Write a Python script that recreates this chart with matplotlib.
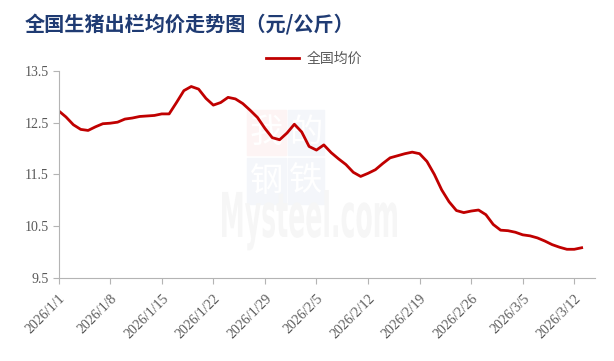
import datetime as dt
import matplotlib
matplotlib.use("Agg")
import matplotlib.pyplot as plt
import matplotlib.dates as mdates
from matplotlib.ticker import FuncFormatter
from matplotlib.textpath import TextPath
from matplotlib.patches import PathPatch, Rectangle
from matplotlib.transforms import Affine2D, IdentityTransform
from matplotlib.font_manager import FontProperties

# Dados (um valor por dia a partir de 2026/1/1)
inicio = dt.date(2026, 1, 1)
precos = [12.73, 12.61, 12.46, 12.37, 12.35, 12.42, 12.48, 12.49, 12.51, 12.57,
          12.59, 12.62, 12.63, 12.64, 12.67, 12.67, 12.89, 13.12, 13.20, 13.15,
          12.97, 12.84, 12.89, 12.99, 12.96, 12.87, 12.74, 12.60, 12.39, 12.21,
          12.17, 12.30, 12.47, 12.32, 12.04, 11.97, 12.07, 11.92, 11.80, 11.69,
          11.54, 11.46, 11.52, 11.59, 11.71, 11.82, 11.86, 11.90, 11.93, 11.90,
          11.75, 11.50, 11.20, 10.97, 10.80, 10.76, 10.79, 10.81, 10.72, 10.53,
          10.42, 10.41, 10.38, 10.33, 10.31, 10.27, 10.21, 10.14, 10.09, 10.05,
          10.05, 10.08]
datas = [inicio + dt.timedelta(days=i) for i in range(len(precos))]

titulo = "全国生猪出栏均价走势图（元/公斤）"
nome_serie = "全国均价"
y_ticks = [9.5, 10.5, 11.5, 12.5, 13.5]

cjk = ["Noto Sans CJK SC", "DejaVu Sans"]
cinza = "#595959"

fig = plt.figure(figsize=(6.14, 3.61), dpi=100)
ax = fig.add_axes([0.0955, 0.2307, 0.874, 0.5726])

# Marca d'água (bem clara, atrás da linha)
W, H = 614, 361
for (x0, y0, x1, y1, cor, ch) in [(247, 110, 286, 155, "#fdf4f4", "我"),
                                  (288, 110, 324, 155, "#f4f6fa", "的"),
                                  (247, 158, 286, 204, "#f4f6fa", "钢"),
                                  (288, 158, 324, 204, "#f4f6fa", "铁")]:
    fig.patches.append(Rectangle((x0 / W, 1 - y1 / H), (x1 - x0) / W, (y1 - y0) / H,
                                 transform=fig.transFigure, color=cor, zorder=-2))
    fig.text((x0 + x1) / 2 / W, 1 - (y0 + y1) / 2 / H, ch, color="white",
             fontsize=24, family=cjk, ha="center", va="center", zorder=-1)

tp = TextPath((0, 0), "Mysteel.com", size=1,
              prop=FontProperties(family="DejaVu Sans", weight="bold"))
ext = tp.get_extents()
sx = (397 - 222) / ext.width
sy = (237 - 190) / ext.y1
trans = Affine2D().translate(-ext.x0, 0).scale(sx, sy).translate(222, H - 237)
marca = PathPatch(trans.transform_path(tp), facecolor="#f6f6f6", edgecolor="none",
                  transform=IdentityTransform(), zorder=-2)
fig.patches.append(marca)

ax.patch.set_alpha(0)
ax.plot(datas, precos, color="#C00000", linewidth=2.0, solid_joinstyle="round")

# Eixos
ax.set_ylim(9.5, 13.5)
ax.set_yticks(y_ticks)
ax.set_yticklabels([f"{v:.1f}" for v in y_ticks])
ax.set_xlim(mdates.date2num(inicio), mdates.date2num(inicio) + 72.85)
ax.set_xticks([inicio + dt.timedelta(days=7 * k) for k in range(11)])
ax.xaxis.set_major_formatter(FuncFormatter(
    lambda v, pos: (lambda d: f"{d.year}/{d.month}/{d.day}")(mdates.num2date(v))))

for s in ["top", "right"]:
    ax.spines[s].set_visible(False)
for s in ["left", "bottom"]:
    ax.spines[s].set_color("#b4b4b4")
    ax.spines[s].set_linewidth(0.8)
ax.tick_params(axis="both", colors="#b4b4b4", length=4, width=0.8,
               labelcolor=cinza, labelsize=10)
ax.tick_params(axis="y", pad=3)
ax.tick_params(axis="x", pad=6)
for lab in ax.get_xticklabels() + ax.get_yticklabels():
    lab.set_family("Liberation Serif")
for lab in ax.get_xticklabels():
    lab.set_rotation(45)
    lab.set_ha("right")
    lab.set_rotation_mode("anchor")

# Título e legenda
fig.text(25 / W, 1 - 24 / H, titulo, color="#1F3B73", fontsize=14.5,
         fontweight="bold", family=cjk, va="center", ha="left")
ax.plot([], [], color="#C00000", linewidth=2.0, label=nome_serie)
leg = fig.legend(loc="center left", bbox_to_anchor=(266 / W, 1 - 59 / H), frameon=False,
                 handlelength=2.4, handletextpad=0.5, borderaxespad=0, borderpad=0,
                 prop=FontProperties(family=cjk, size=10))
for t in leg.get_texts():
    t.set_color(cinza)

fig.savefig("out.png", dpi=100)
